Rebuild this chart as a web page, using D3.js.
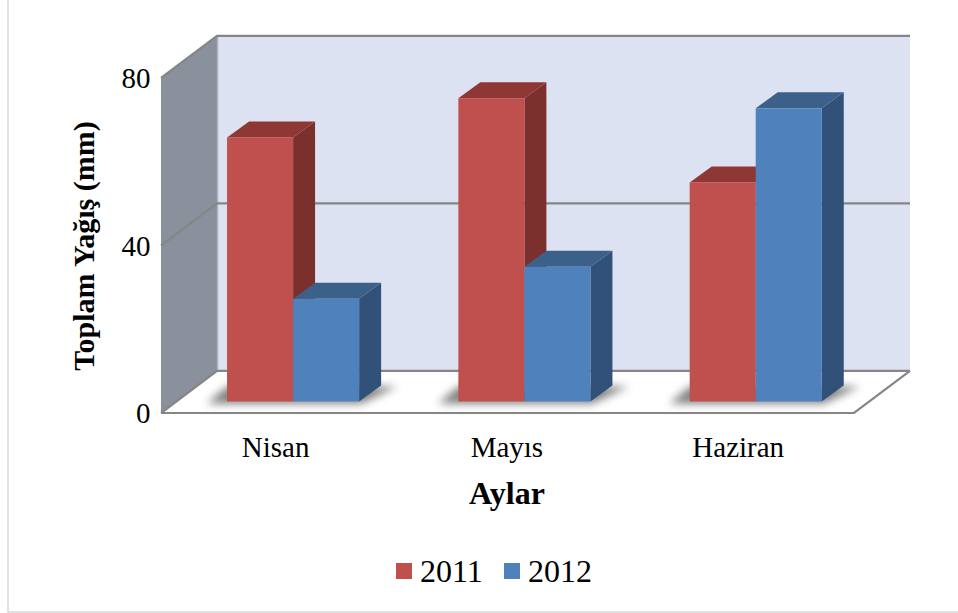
<!DOCTYPE html>
<html><head><meta charset="utf-8">
<script src="https://cdn.jsdelivr.net/npm/d3@7"></script>
<style>html,body{margin:0;padding:0;background:#fff}svg{display:block}text{font-family:"Liberation Serif",serif;fill:#000}</style>
</head><body><svg id="c" width="958" height="613"></svg>
<script>
const categories = ["Nisan","Mayıs","Haziran"];
const seriesNames = ["2011","2012"];
const values2011 = [62.7,72,52];
const values2012 = [24.4,32,69.6];
const yTicks = [0,40,80];
const seriesColors = {"2011":{front:"#c0504d",top:"#8f3735",side:"#7c302e"},"2012":{front:"#4f81bd",top:"#3b6089",side:"#325178"}};
const yAxisTitle = "Toplam Yağış (mm)", xAxisTitle = "Aylar";

const svg = d3.select("#c");
svg.append("rect").attr("x",8).attr("y",-3).attr("width",960).attr("height",615).attr("fill","#fff").attr("stroke","#d9d9d9").attr("stroke-width",1.5);

const defs = svg.append("defs");
defs.append("filter").attr("id","blur").attr("x","-20%").attr("y","-80%").attr("width","140%").attr("height","260%")
  .append("feGaussianBlur").attr("stdDeviation",4.5);

const wall = {x0:161,x1:854,y0:413,y1:78,dx:56,dy:-42.2};
const y = d3.scaleLinear().domain([0,80]).range([wall.y0,wall.y1]);
const hBar = d3.scaleLinear().domain([0,80]).range([0,337]);
const x0 = d3.scaleBand().domain(categories).range([177.4,871.4]).paddingInner(0.429).paddingOuter(0.2146);
const x1 = d3.scaleBand().domain(seriesNames).range([0,x0.bandwidth()]);
const baseY = 401.5, bd = {dx:22,dy:-16};
const poly = pts=>pts.map(p=>p.join(",")).join(" ");
const W = wall;

svg.append("polygon").attr("points",poly([[W.x0+W.dx,y(80)+W.dy],[W.x1+W.dx,y(80)+W.dy],[W.x1+W.dx,y(0)+W.dy],[W.x0+W.dx,y(0)+W.dy]])).attr("fill","#dce2f1");
svg.append("polygon").attr("points",poly([[W.x0,y(80)],[W.x0+W.dx,y(80)+W.dy],[W.x0+W.dx,y(0)+W.dy],[W.x0,y(0)]])).attr("fill","#8a919c");
svg.append("line").attr("x1",W.x0+W.dx+.5).attr("x2",W.x0+W.dx+.5).attr("y1",y(80)+W.dy).attr("y2",y(0)+W.dy).attr("stroke","#a9b0bd").attr("stroke-width",1.5);
svg.append("polygon").attr("points",poly([[W.x0,y(0)],[W.x1,y(0)],[W.x1+W.dx,y(0)+W.dy],[W.x0+W.dx,y(0)+W.dy]])).attr("fill","#fff");

const gridC = "#868686";
yTicks.forEach(t=>{
  svg.append("polyline").attr("fill","none").attr("stroke",gridC).attr("stroke-width",2.2)
    .attr("points",poly([[W.x0,y(t)],[W.x0+W.dx,y(t)+W.dy],[W.x1+W.dx,y(t)+W.dy]]));
});
svg.append("polyline").attr("fill","none").attr("stroke",gridC).attr("stroke-width",2.2)
  .attr("points",poly([[W.x0,y(0)],[W.x1,y(0)],[W.x1+W.dx,y(0)+W.dy]]));

svg.selectAll(".yt").data(yTicks).join("text").attr("class","yt")
  .attr("x",150.5).attr("y",d=>y(d)+10).attr("text-anchor","end").attr("font-size",29).text(d=>d);

svg.selectAll(".sh").data(categories).join("polygon").attr("class","sh")
  .attr("filter","url(#blur)").attr("fill","#555").attr("opacity",.75)
  .attr("points",c=>{const l=x0(c),r=l+x0.bandwidth();return poly([[l-20,baseY+2],[r+2,baseY+2],[r+bd.dx+16,baseY+bd.dy+1],[r,baseY+bd.dy+1],[l,baseY+bd.dy+1]]);});

const rows = categories.flatMap((c,i)=>[{c,s:"2011",v:values2011[i]},{c,s:"2012",v:values2012[i]}]);
const g = svg.selectAll(".bar").data(rows).join("g").attr("class","bar");
const bx = d=>x0(d.c)+x1(d.s), bw = x1.bandwidth();
const topY = d=>baseY-hBar(d.v);
g.append("polygon").attr("fill",d=>seriesColors[d.s].side)
  .attr("points",d=>poly([[bx(d)+bw,topY(d)],[bx(d)+bw+bd.dx,topY(d)+bd.dy],[bx(d)+bw+bd.dx,baseY+bd.dy],[bx(d)+bw,baseY]]));
g.append("polygon").attr("fill",d=>seriesColors[d.s].top)
  .attr("points",d=>poly([[bx(d),topY(d)],[bx(d)+bd.dx,topY(d)+bd.dy],[bx(d)+bw+bd.dx,topY(d)+bd.dy],[bx(d)+bw,topY(d)]]));
g.append("rect").attr("fill",d=>seriesColors[d.s].front)
  .attr("x",bx).attr("y",topY).attr("width",bw).attr("height",d=>baseY-topY(d));

svg.selectAll(".xt").data(categories).join("text").attr("class","xt")
  .attr("x",c=>x0(c)+x0.bandwidth()/2-17.5).attr("y",457).attr("text-anchor","middle").attr("font-size",29).text(c=>c);

svg.append("text").attr("x",507).attr("y",504).attr("text-anchor","middle").attr("font-size",32).attr("font-weight","bold").text(xAxisTitle);
svg.append("text").attr("transform","translate(94,246) rotate(-90)").attr("text-anchor","middle").attr("font-size",30).attr("font-weight","bold").text(yAxisTitle);

const lx = d3.scaleOrdinal().domain(seriesNames).range([396,504]);
const lg = svg.selectAll(".lg").data(seriesNames).join("g").attr("class","lg");
lg.append("rect").attr("x",d=>lx(d)).attr("y",563).attr("width",16).attr("height",16).attr("fill",d=>seriesColors[d].front);
lg.append("text").attr("x",d=>lx(d)+24).attr("y",581.5).attr("font-size",32).text(d=>d);
</script></body></html>
